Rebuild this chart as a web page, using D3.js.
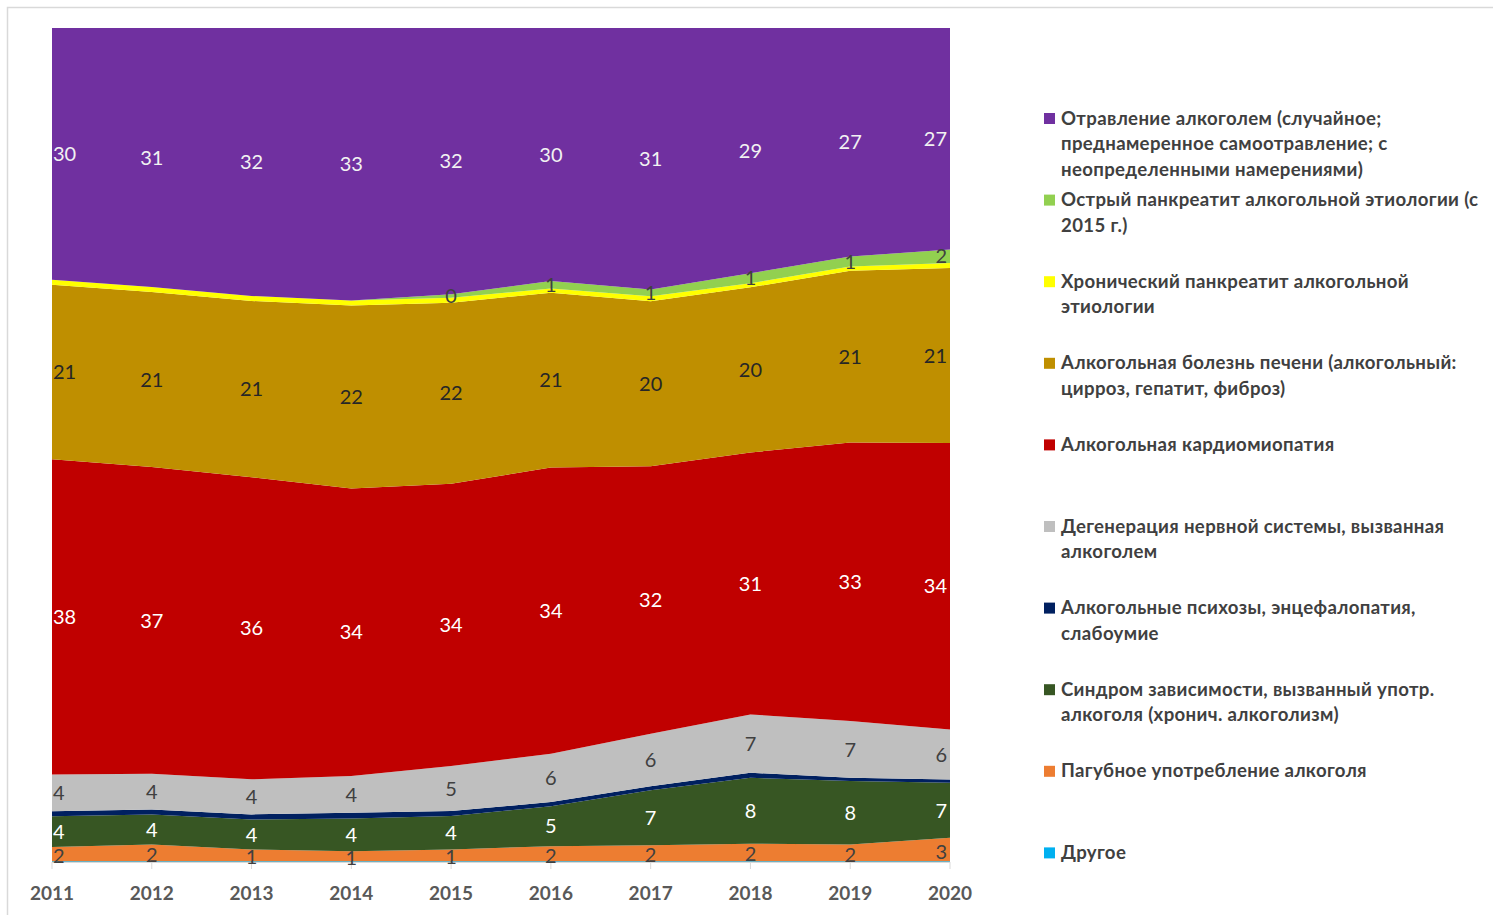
<!DOCTYPE html>
<html><head><meta charset="utf-8">
<script src="https://cdn.jsdelivr.net/npm/d3@7"></script>
<style>body{margin:0;background:#fff;}svg{display:block;}</style>
</head><body>
<svg id="chart" width="1493" height="915"></svg>
<script>
const years = [2011,2012,2013,2014,2015,2016,2017,2018,2019,2020];
const other   = [0.1,0.1,0.1,0.1,0.1,0.1,0.1,0.1,0.1,0.1];
const harmful = [1.7,2.0,1.4,1.2,1.4,1.8,1.9,2.1,2.0,2.8];
const depend  = [3.7,3.6,3.6,3.9,4.0,4.8,6.6,7.9,7.6,6.6];
const psych   = [0.6,0.6,0.6,0.7,0.6,0.5,0.5,0.6,0.4,0.4];
const degen   = [4.4,4.3,4.2,4.4,5.4,5.8,6.3,7.0,6.8,6.0];
const cardio  = [37.8,36.8,36.2,34.4,33.8,34.4,32.1,31.4,33.4,34.4];
const liver   = [20.9,21.0,21.1,21.9,21.7,21.0,19.8,19.8,20.6,21.0];
const chronic = [0.6,0.6,0.6,0.6,0.6,0.5,0.6,0.5,0.5,0.6];
const acute   = [null,null,null,null,0.4,0.9,0.8,1.2,1.2,1.6];
const poison  = [30.2,31.1,32.1,32.6,31.9,30.4,31.4,29.4,27.4,26.6];

const series = [
  {key:"other",   vals:other,   color:"#00B0F0", label:null,
   name:["Другое"]},
  {key:"harmful", vals:harmful, color:"#ED7D31", label:"#404040",
   name:["Пагубное употребление алкоголя"]},
  {key:"depend",  vals:depend,  color:"#375623", label:"#ffffff",
   name:["Синдром зависимости, вызванный употр.","алкоголя (хронич. алкоголизм)"]},
  {key:"psych",   vals:psych,   color:"#002060", label:null,
   name:["Алкогольные психозы, энцефалопатия,","слабоумие"]},
  {key:"degen",   vals:degen,   color:"#BFBFBF", label:"#404040",
   name:["Дегенерация нервной системы, вызванная","алкоголем"]},
  {key:"cardio",  vals:cardio,  color:"#C00000", label:"#ffffff",
   name:["Алкогольная кардиомиопатия"]},
  {key:"liver",   vals:liver,   color:"#BF8F00", label:"#262626",
   name:["Алкогольная болезнь печени (алкогольный:","цирроз, гепатит, фиброз)"]},
  {key:"chronic", vals:chronic, color:"#FFFF00", label:null,
   name:["Хронический панкреатит алкогольной","этиологии"]},
  {key:"acute",   vals:acute,   color:"#92D050", label:"#404040",
   name:["Острый панкреатит алкогольной этиологии (с","2015 г.)"]},
  {key:"poison",  vals:poison,  color:"#7030A0", label:"#f2f2f2",
   name:["Отравление алкоголем (случайное;","преднамеренное самоотравление; с","неопределенными намерениями)"]}
];

const table = years.map((yr,i)=>{
  const o = {year:yr};
  series.forEach(s=>{ o[s.key] = s.vals[i]==null?0:s.vals[i]; });
  return o;
});

const svg = d3.select("#chart");
const W=1493, H=915;
const mLeft=52, mRight=950, mTop=28, mBottom=862;

svg.append("rect").attr("x",7.5).attr("y",7.5).attr("width",W+10).attr("height",H+10)
  .attr("fill","#fff").attr("stroke","#d9d9d9").attr("stroke-width",1.5);

const x = d3.scaleLinear().domain([2011,2020]).range([mLeft,mRight]);
const y = d3.scaleLinear().domain([0,1]).range([mBottom,mTop]);

const stack = d3.stack().keys(series.map(s=>s.key)).offset(d3.stackOffsetExpand);
const stacked = stack(table);

const area = d3.area().x(d=>x(d.data.year)).y0(d=>y(d[0])).y1(d=>y(d[1]));
svg.append("g").selectAll("path").data(stacked).join("path")
  .attr("d",area).attr("fill",(d,i)=>series[i].color);

// axis
const axisG = svg.append("g").attr("transform",`translate(0,${mBottom})`);
axisG.append("line").attr("x1",mLeft).attr("x2",mRight).attr("y1",0.5).attr("y2",0.5).attr("stroke","#d9d9d9");
axisG.selectAll("line.t").data(years).join("line").attr("class","t")
  .attr("x1",d=>x(d)).attr("x2",d=>x(d)).attr("y1",0).attr("y2",7).attr("stroke","#d9d9d9");
axisG.selectAll("text").data(years).join("text")
  .attr("x",d=>x(d)).attr("y",38).attr("text-anchor","middle")
  .attr("font-family","Lato, 'Open Sans', sans-serif").attr("font-weight","bold")
  .attr("font-size",19).attr("fill","#595959").text(d=>d);

// data labels
const lab = svg.append("g").attr("font-family","Lato, 'Open Sans', sans-serif").attr("font-size",20);
stacked.forEach((layer,si)=>{
  const s = series[si];
  if(!s.label) return;
  layer.forEach((d,i)=>{
    if(s.vals[i]==null) return;
    const cx = x(d.data.year);
    const cy = y((d[0]+d[1])/2);
    let anchor="middle", tx=cx;
    if(i===0){anchor="start"; tx=cx+1;}
    if(i===years.length-1){anchor="end"; tx=cx-3;}
    lab.append("text").attr("x",tx).attr("y",cy).attr("dy",s.key==="harmful"?"0.45em":"0.36em")
      .attr("text-anchor",anchor).attr("fill",s.label).text(Math.round(s.vals[i]));
  });
});

// legend
const legendOrder = series.slice().reverse();
const leg = svg.append("g").attr("font-family","Lato, 'Open Sans', sans-serif")
  .attr("font-weight","bold").attr("font-size",18.6).attr("letter-spacing",0.35).attr("fill","#404040");
legendOrder.forEach((s,i)=>{
  const ly = 118 + i*81.6;
  leg.append("rect").attr("x",1044).attr("y",ly-5).attr("width",11).attr("height",11).attr("fill",s.color);
  s.name.forEach((t,j)=>{
    leg.append("text").attr("x",1061).attr("y",ly+j*25.5).attr("dy","0.35em").text(t);
  });
});
</script>
</body></html>
